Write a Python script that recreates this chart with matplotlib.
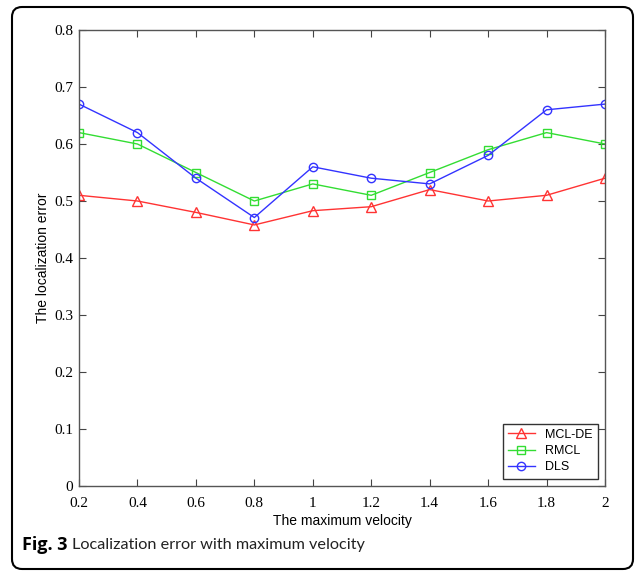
import numpy as np
import matplotlib.pyplot as plt
from matplotlib.patches import FancyBboxPatch
from matplotlib.transforms import IdentityTransform

velocity = [0.2, 0.4, 0.6, 0.8, 1.0, 1.2, 1.4, 1.6, 1.8, 2.0]
mcl_de = [0.51, 0.50, 0.48, 0.458, 0.483, 0.49, 0.52, 0.50, 0.51, 0.54]
rmcl = [0.62, 0.60, 0.55, 0.50, 0.53, 0.51, 0.55, 0.59, 0.62, 0.60]
dls = [0.67, 0.62, 0.54, 0.471, 0.56, 0.54, 0.53, 0.58, 0.66, 0.67]

xticks = [0.2, 0.4, 0.6, 0.8, 1, 1.2, 1.4, 1.6, 1.8, 2]
xticklabels = ['0.2', '0.4', '0.6', '0.8', '1', '1.2', '1.4', '1.6', '1.8', '2']
yticks = [0, 0.1, 0.2, 0.3, 0.4, 0.5, 0.6, 0.7, 0.8]
yticklabels = ['0', '0.1', '0.2', '0.3', '0.4', '0.5', '0.6', '0.7', '0.8']

fig = plt.figure(figsize=(6.36, 5.71), dpi=100)
ax = fig.add_axes([79 / 636, 1 - 486 / 571, 526 / 636, 456 / 571])

ax.plot(velocity, mcl_de, color='#ff3333', marker='^', markersize=6.5,
        markerfacecolor='none', linewidth=1, label='MCL-DE')
ax.plot(velocity, rmcl, color='#33dd33', marker='s', markersize=6,
        markerfacecolor='none', linewidth=1, label='RMCL')
ax.plot(velocity, dls, color='#3333ff', marker='o', markersize=6,
        markerfacecolor='none', linewidth=1, label='DLS')

ax.set_xlim(0.2, 2)
ax.set_ylim(0, 0.8)
ax.set_xticks(xticks)
ax.set_xticklabels(xticklabels, family='Liberation Serif', fontsize=11)
ax.set_yticks(yticks)
ax.set_yticklabels(yticklabels, family='Liberation Serif', fontsize=11)
ax.tick_params(direction='in', top=True, right=True, length=5,
               color='#444444')
ax.tick_params(axis='x', pad=8)
ax.tick_params(axis='y', pad=4)
for s in ax.spines.values():
    s.set_color('#555555')
    s.set_linewidth(1)

ax.set_xlabel('The maximum velocity', family='Liberation Sans', fontsize=10,
              labelpad=3)
ax.set_ylabel('The localization error', family='Liberation Sans', fontsize=10,
              labelpad=3)

leg = ax.legend(loc='lower right', prop={'family': 'Liberation Sans', 'size': 9},
                fancybox=False, edgecolor='#333333', framealpha=1,
                borderaxespad=0.6, handlelength=2.2, labelspacing=0.35)
leg.get_frame().set_linewidth(1)

# rounded frame round the whole figure, in pixels
frame = FancyBboxPatch((12, 2), 621, 562,
                       boxstyle='round,pad=0,rounding_size=10',
                       transform=IdentityTransform(), fill=False,
                       edgecolor='black', linewidth=1.5, clip_on=False)
fig.patches.append(frame)

fig.text(22 / 636, 1 - 545 / 571, 'Fig. 3', family='Open Sans',
         fontweight='bold', fontsize=13, va='center', ha='left')
fig.text(72 / 636, 1 - 545 / 571, 'Localization error with maximum velocity',
         family='Lato', fontsize=11.7, color='#222222', va='center', ha='left')

fig.savefig('out.png', dpi=100)
